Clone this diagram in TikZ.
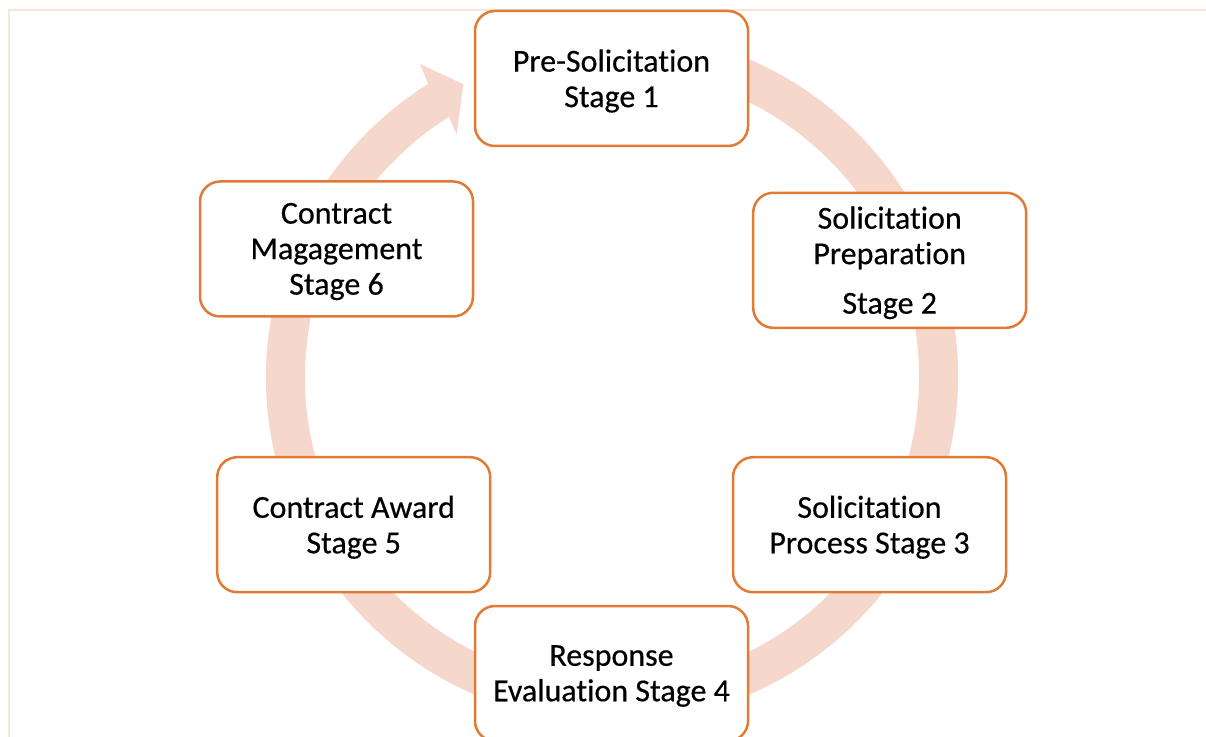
\documentclass[tikz,border=0pt]{standalone}
\usepackage{fontspec}
\setmainfont{Carlito}[Ligatures=NoCommon, FakeBold=0.4]
\definecolor{boxorange}{HTML}{E07A35}
\definecolor{ringpeach}{HTML}{F6D7CC}
\definecolor{framepeach}{HTML}{FBE4D6}
\begin{document}
\begin{tikzpicture}[x=1pt,y=1pt,
  stagebox/.style={draw=boxorange, line width=2.5pt, rounded corners=20pt, fill=white,
    minimum width=273pt, minimum height=135pt, inner sep=0pt},
  stagetext/.style={align=center, inner sep=0pt,
    font=\fontsize{32}{35.5}\selectfont}]
\useasboundingbox (0,0) rectangle (1206,736);
% frame
\draw[framepeach, line width=1.5pt] (9,-5) -- (9,726) -- (1215,726);
% ring arrow
\begin{scope}[shift={(612,359)}]
\fill[ringpeach] (80:346) arc[start angle=80, end angle=-237.9, radius=346]
  -- (-192,313) -- (-148.7,292.7) -- (-155.3,242.7)
  -- (122.1:307) arc[start angle=122.1, end angle=440, radius=307] -- cycle;
\end{scope}
% stages
\node[stagebox] (s1) at (611.5,657.5) {};
\node[stagebox] (s2) at (889.7,475.7) {};
\node[stagebox] (s3) at (869.5,211.3) {};
\node[stagebox] (s4) at (611.5,62.5) {};
\node[stagebox] (s5) at (353.7,211.3) {};
\node[stagebox] (s6) at (336.5,487) {};
\node[stagetext] (t1) at ([yshift=-2.5pt]s1.center) {Pre-Solicitation\\Stage 1};
\node[stagetext] (t2) at ([yshift=-2.5pt]s2.center) {Solicitation\\Preparation\\[14pt]Stage 2};
\node[stagetext] (t3) at ([yshift=-2.5pt]s3.center) {Solicitation\\Process Stage 3};
\node[stagetext] (t4) at ([yshift=-2.5pt]s4.center) {Response\\Evaluation Stage 4};
\node[stagetext] (t5) at ([yshift=-2.5pt]s5.center) {Contract Award\\Stage 5};
\node[stagetext] (t6) at ([yshift=-2.5pt]s6.center) {Contract\\Magagement\\Stage 6};
\end{tikzpicture}
\end{document}
